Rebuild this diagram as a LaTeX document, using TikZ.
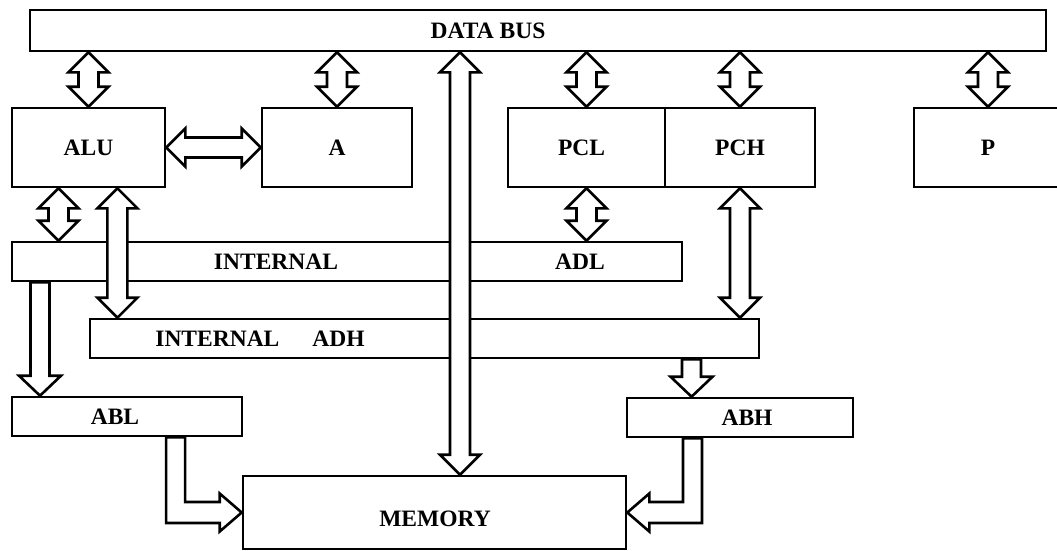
\documentclass[tikz,border=0pt]{standalone}
\usepackage{fontspec}
\setmainfont{Liberation Serif}
\usetikzlibrary{calc}
\newcommand\dva[2]{% vertical double block arrow: top point, bottom point (x of top)
  \draw[arr] let \p1=(#1), \p2=(#2) in
    (\x1,\y1) -- (\x1+20pt,\y1-20pt) -- (\x1+10pt,\y1-20pt) -- (\x1+10pt,\y2+20pt)
    -- (\x1+20pt,\y2+20pt) -- (\x1,\y2) -- (\x1-20pt,\y2+20pt) -- (\x1-10pt,\y2+20pt)
    -- (\x1-10pt,\y1-20pt) -- (\x1-20pt,\y1-20pt) -- cycle;}
\newcommand\dha[2]{% horizontal double block arrow: left point, right point (y of left)
  \draw[arr] let \p1=(#1), \p2=(#2) in
    (\x1,\y1) -- (\x1+19pt,\y1+19pt) -- (\x1+19pt,\y1+10pt) -- (\x2-19pt,\y1+10pt)
    -- (\x2-19pt,\y1+19pt) -- (\x2,\y1) -- (\x2-19pt,\y1-19pt) -- (\x2-19pt,\y1-10pt)
    -- (\x1+19pt,\y1-10pt) -- (\x1+19pt,\y1-19pt) -- cycle;}
\newcommand\sda[2]{% single downward block arrow: top point, bottom point (x of bottom)
  \draw[arr] let \p1=(#1), \p2=(#2) in
    (\x2-9.5pt,\y1) -- (\x2-9.5pt,\y2+20pt) -- (\x2-21pt,\y2+20pt) -- (\x2,\y2)
    -- (\x2+21pt,\y2+20pt) -- (\x2+9.5pt,\y2+20pt) -- (\x2+9.5pt,\y1) -- cycle;}
\newcommand\lra[2]{% L arrow: down from #1 then right to #2
  \draw[arr] let \p1=(#1), \p2=(#2) in
    (\x1-9.5pt,\y1) -- (\x1-9.5pt,\y2-10.5pt) -- (\x2-22pt,\y2-10.5pt) -- (\x2-22pt,\y2-19pt)
    -- (\x2,\y2) -- (\x2-22pt,\y2+19pt) -- (\x2-22pt,\y2+10.5pt) -- (\x1+9.5pt,\y2+10.5pt)
    -- (\x1+9.5pt,\y1) -- cycle;}
\newcommand\lla[2]{% L arrow: down from #1 then left to #2
  \draw[arr] let \p1=(#1), \p2=(#2) in
    (\x1+9.5pt,\y1) -- (\x1+9.5pt,\y2-10.5pt) -- (\x2+22pt,\y2-10.5pt) -- (\x2+22pt,\y2-19pt)
    -- (\x2,\y2) -- (\x2+22pt,\y2+19pt) -- (\x2+22pt,\y2+10.5pt) -- (\x1-9.5pt,\y2+10.5pt)
    -- (\x1-9.5pt,\y1) -- cycle;}
\begin{document}
\begin{tikzpicture}[x=1pt,y=-1pt,line width=2.6pt,
  every node/.style={font=\bfseries\fontsize{23.5}{28}\selectfont},
  box/.style={draw,rectangle,inner sep=0pt},
  arr/.style={draw=black,fill=white,line join=miter}]
\useasboundingbox (0,0) rectangle (1057,550);
\clip (0,0) rectangle (1057,550);
% boxes
\node[box,minimum width=1016pt,minimum height=41pt] (bus) at (538,30.5) {};
\node[box,minimum width=153pt,minimum height=79pt] (alu) at (88.5,147.5) {ALU};
\node[box,minimum width=150pt,minimum height=79pt] (a) at (337,147.5) {A};
\node[box,minimum width=157pt,minimum height=79pt] (pcl) at (586.5,147.5) {};
\node[box,minimum width=150pt,minimum height=79pt] (pch) at (740,147.5) {PCH};
\node[box,minimum width=148pt,minimum height=79pt] (p) at (988,147.5) {P};
\node[box,minimum width=670pt,minimum height=39pt] (adl) at (347,261.5) {};
\node[box,minimum width=669pt,minimum height=39pt] (adh) at (424.5,338.5) {};
\node[box,minimum width=230pt,minimum height=39pt] (abl) at (127,416.5) {};
\node[box,minimum width=226pt,minimum height=39pt] (abh) at (740,417.5) {};
\node[box,minimum width=383pt,minimum height=73pt] (mem) at (434.5,512.5) {};
% helper points
\coordinate (c1) at ($(alu.south west)!0.307!(alu.south east)$);
\coordinate (c2) at ($(alu.south west)!0.686!(alu.south east)$);
\coordinate (mt) at ([xshift=25.5pt]mem.north);
\coordinate (d1) at ($(abl.north west)!0.126!(abl.north east)$);
\coordinate (d2) at ($(abh.north west)!0.288!(abh.north east)$);
\coordinate (l1) at ($(abl.south west)!0.709!(abl.south east)$);
\coordinate (l2) at ($(abh.south west)!0.292!(abh.south east)$);
% arrows
\dva{bus.south -| alu.north}{alu.north}
\dva{bus.south -| a.north}{a.north}
\dva{bus.south -| pcl.north}{pcl.north}
\dva{bus.south -| pch.north}{pch.north}
\dva{bus.south -| p.north}{p.north}
\dva{bus.south -| mt}{mt}
\dva{c1}{c1 |- adl.north}
\dva{c2}{c2 |- adh.north}
\dva{pcl.south}{pcl.south |- adl.north}
\dva{pch.south}{pch.south |- adh.north}
\dha{alu.east}{a.west}
\sda{d1 |- adl.south}{d1}
\sda{d2 |- adh.south}{d2}
\lra{l1}{mem.west}
\lla{l2}{mem.east}
% labels
\node (tbus) at (488,31) {DATA BUS};
\node (tpcl) at ([xshift=-5pt]pcl.center) {PCL};
\node (tint) at (276,262) {INTERNAL};
\node (tadl) at (580,262) {ADL};
\node (tadh) at (260,338.5) {INTERNAL\hspace{33pt}ADH};
\node (tabl) at ([xshift=-12pt]abl.center) {ABL};
\node (tabh) at ([xshift=7pt]abh.center) {ABH};
\node (tmem) at (435,519) {MEMORY};
\end{tikzpicture}
\end{document}
